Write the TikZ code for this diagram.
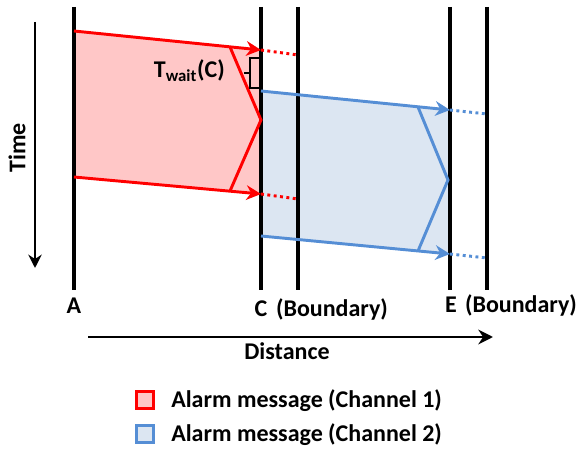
\documentclass[tikz,border=0pt]{standalone}
\usepackage{fontspec}
\setmainfont{Carlito}
\usetikzlibrary{arrows.meta}
\definecolor{chone}{RGB}{255,0,0}
\definecolor{chonefill}{RGB}{255,199,199}
\definecolor{chtwo}{RGB}{85,142,213}
\definecolor{chtwofill}{RGB}{220,230,242}

\begin{document}
\begin{tikzpicture}[x=0.75pt, y=-0.75pt, font=\fontsize{18}{21}\selectfont\bfseries,
    station/.style={line width=2.3pt, black},
    msg/.style={line width=2.2pt, -{Stealth[length=11pt, width=11pt]}},
    front/.style={line width=2.2pt},
    tail/.style={line width=2.2pt, dash pattern=on 2.2pt off 2.6pt},
    legbox/.style={line width=1.8pt, minimum size=12.5pt, inner sep=0pt}]
  \useasboundingbox (0,0) rectangle (576,449);
  % ---------------------------------------------------------------- stations
  \foreach \n/\x in {A/74, C/261, Cb/298, E/450, Eb/487} {
    \coordinate (\n top) at (\x,7);
    \coordinate (\n bot) at (\x,290);
  }
  % ---------------------------------------------------------------- channel 1 (red)
  \coordinate (r1) at (74,31);  \coordinate (r2) at (261,50);
  \coordinate (r3) at (261,194); \coordinate (r4) at (74,177);
  \fill[chonefill] (r1) -- (r2) -- (r3) -- (r4) -- cycle;
  % ---------------------------------------------------------------- channel 2 (blue)
  \coordinate (b1) at (261,91);  \coordinate (b2) at (450,110);
  \coordinate (b3) at (450,254); \coordinate (b4) at (261,236);
  \fill[chtwofill] (b1) -- (b2) -- (b3) -- (b4) -- cycle;
  % station lines on top of the fills
  \foreach \n in {A, C, Cb, E, Eb}
    \draw[station] (\n top) -- (\n bot);
  % red edges, front and tails
  \draw[chone, front] (230,47) -- (261,120) -- (230,191);
  \draw[chone, msg] (r1) -- (r2);
  \draw[chone, msg] (r4) -- (r3);
  \coordinate (rt1) at (298,55); \coordinate (rt2) at (298,199);
  \draw[chone, tail] (r2) -- (rt1);
  \draw[chone, tail] (r3) -- (rt2);
  % blue edges, front and tails
  \draw[chtwo, front] (418,107) -- (448,180) -- (418,251);
  \draw[chtwo, msg] (b1) -- (b2);
  \draw[chtwo, msg] (b4) -- (b3);
  \coordinate (bt1) at (487,114); \coordinate (bt2) at (487,258);
  \draw[chtwo, tail] (b2) -- (bt1);
  \draw[chtwo, tail] (b3) -- (bt2);
  % ---------------------------------------------------------------- waiting time bracket
  \draw[line width=1.8pt] (261,58) -- (250,58) -- (250,88) -- (261,88);
  \draw[line width=1.8pt] (250,73) -- (244,73);
  \node[anchor=base east, inner sep=0pt] (twait) at (225,78) {T\textsubscript{wait}(C)};
  % ---------------------------------------------------------------- axes and labels
  \coordinate (t0) at (35,22); \coordinate (t1) at (35,268);
  \draw[line width=2pt, -{Stealth[length=10pt, width=10pt]}] (t0) -- (t1);
  \node[rotate=90] (time) at (17,148) {Time};
  \coordinate (d0) at (88,337); \coordinate (d1) at (493,337);
  \draw[line width=2pt, -{Stealth[length=11pt, width=11pt]}] (d0) -- (d1);
  \node[anchor=base] (dist) at (287,360) {Distance};
  \node[anchor=base] (labA) at (74,314) {A};
  \node[anchor=base] (labC) at (261,317) {C};
  \node[anchor=base] (labCb) at (332,317) {(Boundary)};
  \node[anchor=base] (labE) at (451,313) {E};
  \node[anchor=base] (labEb) at (521,313) {(Boundary)};
  % ---------------------------------------------------------------- legend
  \node[legbox, draw=chone, fill=chonefill] (key1) at (145,400) {};
  \node[anchor=base west, inner sep=0pt] (txt1) at (171,408) {Alarm message (Channel 1)};
  \node[legbox, draw=chtwo, fill=chtwofill] (key2) at (145,434) {};
  \node[anchor=base west, inner sep=0pt] (txt2) at (171,442) {Alarm message (Channel 2)};
\end{tikzpicture}
\end{document}
